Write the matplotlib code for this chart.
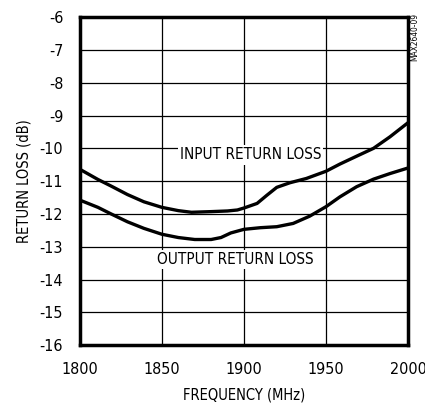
import matplotlib

matplotlib.use("Agg")
import matplotlib.pyplot as plt

# values
freq_in = [1800, 1811, 1819, 1829, 1839, 1850, 1860, 1868, 1880, 1890, 1896, 1900,
           1908, 1914, 1920, 1928, 1938, 1950, 1958.5, 1968.7, 1979, 1989, 2000]
input_rl = [-10.64, -10.95, -11.15, -11.41, -11.63, -11.80, -11.90, -11.95, -11.93,
            -11.91, -11.88, -11.82, -11.68, -11.43, -11.19, -11.05, -10.92, -10.70,
            -10.48, -10.24, -10.00, -9.65, -9.22]

freq_out = [1800, 1811, 1819, 1829, 1839, 1850, 1860, 1870, 1880, 1886, 1892, 1900,
            1910, 1920, 1930, 1940, 1950, 1958.5, 1968.7, 1979, 1989, 2000]
output_rl = [-11.58, -11.80, -12.00, -12.24, -12.44, -12.62, -12.72, -12.78, -12.78,
             -12.72, -12.58, -12.47, -12.42, -12.39, -12.29, -12.07, -11.78, -11.48,
             -11.17, -10.94, -10.77, -10.60]

x_ticks = [1800, 1850, 1900, 1950, 2000]
y_ticks = list(range(-16, -5))

plt.rcParams["font.family"] = ["DejaVu Sans"]
plt.rcParams["font.stretch"] = "condensed"
plt.rcParams["axes.unicode_minus"] = False

fig = plt.figure(figsize=(4.25, 4.07), dpi=100)
ax = fig.add_axes([0.188, 0.152, 0.772, 0.806])

ax.plot(freq_in, input_rl, color="black", linewidth=2.4)
ax.plot(freq_out, output_rl, color="black", linewidth=2.4)

ax.set_xlim(1800, 2000)
ax.set_ylim(-16, -6)
ax.set_xticks(x_ticks)
ax.set_yticks(y_ticks)
ax.tick_params(length=0, labelsize=11.5)
ax.tick_params(axis="x", pad=12)
ax.tick_params(axis="y", pad=12)
ax.grid(True, color="black", linewidth=0.9)
ax.set_axisbelow(True)
for sp in ax.spines.values():
    sp.set_linewidth(2.5)

ax.set_xlabel("FREQUENCY (MHz)", fontsize=10.5, labelpad=8)
ax.set_ylabel("RETURN LOSS (dB)", fontsize=10.5, labelpad=6)

box = dict(facecolor="white", edgecolor="none", pad=1.5)
ax.text(1904, -10.2, "INPUT RETURN LOSS", fontsize=11, ha="center", va="center", bbox=box)
ax.text(1895, -13.4, "OUTPUT RETURN LOSS", fontsize=11, ha="center", va="center", bbox=box)

fig.text(0.977, 0.91, "MAX2640-09", fontsize=6, rotation=90, ha="center", va="center")

fig.savefig("out.png", dpi=100)
